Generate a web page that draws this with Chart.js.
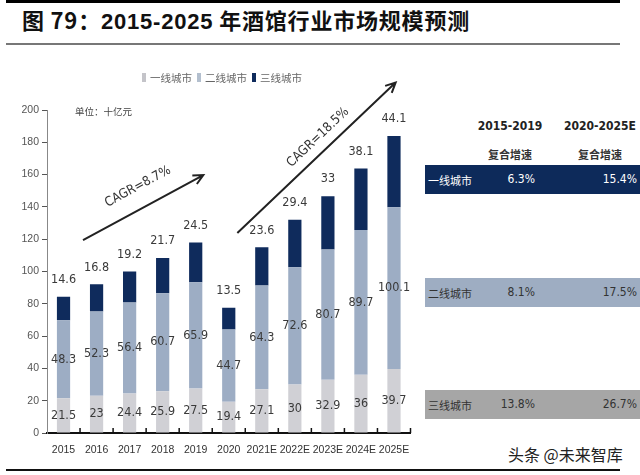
<!DOCTYPE html>
<html>
<head>
<meta charset="utf-8">
<script src="https://cdn.jsdelivr.net/npm/chart.js@4/dist/chart.umd.min.js"></script>
<style>
    body { margin: 0; width: 640px; height: 475px; background: #fff; position: relative; overflow: hidden;
           font-family: "Noto Sans CJK SC", sans-serif; }
    .abs { position: absolute; }
    .narrow { font-family: "DejaVu Sans", sans-serif; font-stretch: condensed; }
    #title { left: 22px; top: 3px; font-size: 22px; font-weight: 700; color: #111; white-space: nowrap; letter-spacing: 0.8px; }
    #legend span { display: inline-block; vertical-align: middle; }
    .row { left: 425px; width: 215px; height: 29px; font-size: 11px; }
    .row div { position: absolute; top: 7px; }
</style>
</head>
<body>
<div class="abs" style="left:6px;top:0;width:614px;height:3px;background:#000"></div>
<div id="title" class="abs">图 79：<span style="font-family:'Liberation Sans',Arial,sans-serif">2015-2025</span> 年酒馆行业市场规模预测</div>
<div class="abs" style="left:6px;top:43px;width:614px;height:2px;background:#777"></div>
<div class="abs" style="left:6px;top:469px;width:614px;height:2px;background:#111"></div>

<div class="abs" style="left:0;top:0;width:425px;height:475px"><canvas id="chart"></canvas></div>

<!-- legend -->
<div id="legend" class="abs" style="left:142px;top:68px;font-size:10.5px;color:#666;white-space:nowrap"></div>
<div class="abs" style="left:75px;top:104px;font-size:9.5px;color:#444">单位：十亿元</div>

<!-- right side table -->
<div class="abs narrow" style="left:470px;top:119px;width:80px;text-align:center;font-size:12px;font-weight:700;color:#222">2015-2019</div>
<div class="abs narrow" style="left:560px;top:119px;width:80px;text-align:center;font-size:12px;font-weight:700;color:#222">2020-2025E</div>
<div class="abs" style="left:470px;top:146px;width:80px;text-align:center;font-size:11px;font-weight:700;color:#333">复合增速</div>
<div class="abs" style="left:560px;top:146px;width:80px;text-align:center;font-size:11px;font-weight:700;color:#333">复合增速</div>
<div id="table"></div>

<div class="abs" style="left:508px;top:442px;font-size:16px;color:#222;white-space:nowrap">头条 @未来智库</div>

<script>
// Data
const years = ['2015', '2016', '2017', '2018', '2019', '2020', '2021E', '2022E', '2023E', '2024E', '2025E'];
const tier1 = [21.5, 23, 24.4, 25.9, 27.5, 19.4, 27.1, 30, 32.9, 36, 39.7];
const tier2 = [48.3, 52.3, 56.4, 60.7, 65.9, 44.7, 64.3, 72.6, 80.7, 89.7, 100.1];
const tier3 = [14.6, 16.8, 19.2, 21.7, 24.5, 13.5, 23.6, 29.4, 33, 38.1, 44.1];
const seriesNames = ['一线城市', '二线城市', '三线城市'];
const yTicks = [0, 20, 40, 60, 80, 100, 120, 140, 160, 180, 200];

// CAGR table
const tableRows = ['一线城市', '二线城市', '三线城市'];
const cagr1519 = ['6.3%', '8.1%', '13.8%'];
const cagr2025 = ['15.4%', '17.5%', '26.7%'];

const barColors = ['#d0d0d5', '#9dadc4', '#0f2b5c'];
const legendColors = ['#c4c4c9', '#b3bfce', '#0f2b5c'];
const rowColors = ['#0d2a5a', '#9eadc2', '#a6a6a6'];
const rowText = ['#fff', '#333', '#333'];
const rowTops = [165, 278, 390];

const narrowFont = '"DejaVu Sans", sans-serif';

// Legend
const legend = document.getElementById('legend');
seriesNames.forEach((name, i) => {
    legend.innerHTML += `<span style="width:4px;height:9px;background:${legendColors[i]};margin-right:4px"></span>` +
        `<span style="margin-right:5px">${name}</span>`;
});

// Table rows
const table = document.getElementById('table');
tableRows.forEach((name, i) => {
    table.innerHTML += `<div class="abs row" style="top:${rowTops[i]}px;background:${rowColors[i]};color:${rowText[i]}">` +
        `<div style="left:3px">${name}</div>` +
        `<div class="narrow" style="right:105px;font-size:12px">${cagr1519[i]}</div>` +
        `<div class="narrow" style="right:3px;font-size:12px">${cagr2025[i]}</div></div>`;
});

// Value labels on the bars
const valueLabels = {
    id: 'valueLabels',
    afterDatasetsDraw(chart) {
        const ctx = chart.ctx;
        ctx.save();
        ctx.font = '12.5px ' + narrowFont;
        ctx.fontStretch = 'condensed';
        ctx.fillStyle = '#3a3a3a';
        ctx.textAlign = 'center';
        ctx.textBaseline = 'middle';
        chart.data.datasets.forEach((ds, d) => {
            chart.getDatasetMeta(d).data.forEach((bar, i) => {
                const y = d === 2 ? bar.y - 17 : (bar.y + bar.base) / 2;
                ctx.fillText(ds.data[i], bar.x, y);
            });
        });
        ctx.restore();
    }
};

// x axis tick marks between categories, pointing up
const axisMarks = {
    id: 'axisMarks',
    afterDraw(chart) {
        const ctx = chart.ctx;
        const x = chart.scales.x;
        const bottom = chart.chartArea.bottom;
        ctx.save();
        ctx.strokeStyle = '#111';
        ctx.lineWidth = 1.5;
        for (let i = 0; i < years.length; i++) {
            const px = x.getPixelForValue(i) + (x.getPixelForValue(1) - x.getPixelForValue(0)) / 2;
            ctx.beginPath();
            ctx.moveTo(px, bottom);
            ctx.lineTo(px, bottom - 5);
            ctx.stroke();
        }
        ctx.restore();
    }
};

// CAGR arrows, positioned in data coordinates
const arrows = [
    { from: [0.59, 119.5], to: [4.23, 159.7], text: 'CAGR=8.7%', at: [2.25, 152.5] },
    { from: [5.26, 123.8], to: [10.05, 217], text: 'CAGR=18.5%', at: [7.7, 183] }
];
const cagrArrows = {
    id: 'cagrArrows',
    afterDraw(chart) {
        const ctx = chart.ctx;
        const xs = chart.scales.x, ys = chart.scales.y;
        ctx.save();
        ctx.strokeStyle = '#222';
        ctx.fillStyle = '#333';
        ctx.lineWidth = 2;
        arrows.forEach(a => {
            const x1 = xs.getPixelForValue(a.from[0]), y1 = ys.getPixelForValue(a.from[1]);
            const x2 = xs.getPixelForValue(a.to[0]), y2 = ys.getPixelForValue(a.to[1]);
            const ang = Math.atan2(y2 - y1, x2 - x1);
            ctx.beginPath();
            ctx.moveTo(x1, y1);
            ctx.lineTo(x2, y2);
            ctx.moveTo(x2 - 11 * Math.cos(ang - 0.45), y2 - 11 * Math.sin(ang - 0.45));
            ctx.lineTo(x2, y2);
            ctx.lineTo(x2 - 11 * Math.cos(ang + 0.45), y2 - 11 * Math.sin(ang + 0.45));
            ctx.stroke();

            ctx.save();
            ctx.translate(xs.getPixelForValue(a.at[0]), ys.getPixelForValue(a.at[1]));
            ctx.rotate(ang);
            ctx.font = '13px ' + narrowFont;
            ctx.fontStretch = 'condensed';
            ctx.textAlign = 'center';
            ctx.textBaseline = 'middle';
            ctx.fillText(a.text, 0, 0);
            ctx.restore();
        });
        ctx.restore();
    }
};

new Chart(document.getElementById('chart'), {
    type: 'bar',
    data: {
        labels: years,
        datasets: [tier1, tier2, tier3].map((vals, i) => ({
            label: seriesNames[i],
            data: vals,
            backgroundColor: barColors[i],
            categoryPercentage: 1,
            barPercentage: 0.4
        }))
    },
    options: {
        responsive: true,
        maintainAspectRatio: false,
        animation: false,
        layout: { padding: { top: 110, right: 14.5, left: 0, bottom: 0 } },
        plugins: { legend: { display: false }, tooltip: { enabled: false } },
        scales: {
            x: {
                stacked: true,
                grid: { display: false, drawTicks: false },
                border: { color: '#111', width: 2 },
                ticks: { color: '#333', font: { size: 10.5, family: '"Liberation Sans", sans-serif' }, padding: 11, maxRotation: 0, autoSkip: false },
                afterFit(scale) { scale.height = 42; }
            },
            y: {
                stacked: true,
                min: 0,
                max: 200,
                afterBuildTicks(scale) { scale.ticks = yTicks.map(v => ({ value: v })); },
                grid: { drawOnChartArea: false, tickLength: 5, color: '#555' },
                border: { color: '#888', width: 1 },
                ticks: { color: '#555', font: { size: 10.5, family: '"Liberation Sans", sans-serif' }, padding: 3 },
                afterFit(scale) { scale.width = 47; }
            }
        }
    },
    plugins: [valueLabels, axisMarks, cagrArrows]
});
</script>
</body>
</html>
